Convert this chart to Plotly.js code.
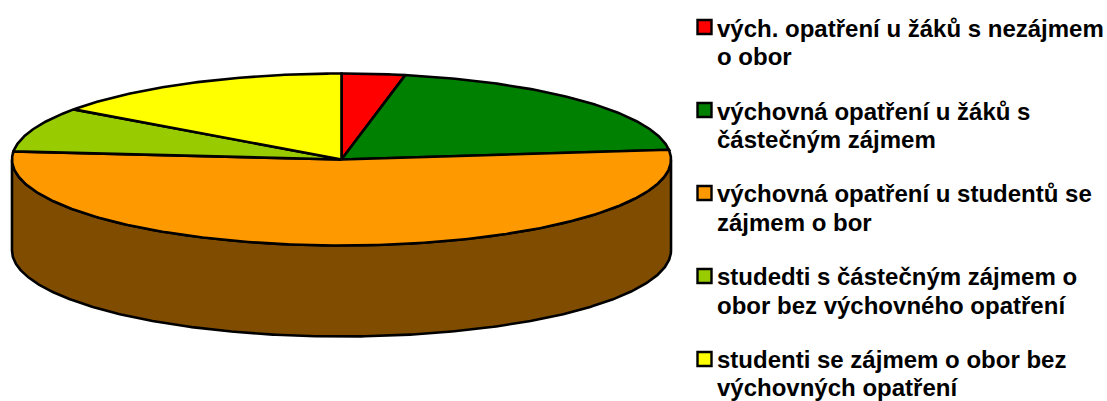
<!DOCTYPE html>
<html>
<head>
<meta charset="utf-8">
<script src="https://cdn.plot.ly/plotly-3.0.1.min.js"></script>
<style>html,body{margin:0;padding:0;background:#fff}#chart{width:1107px;height:401px}</style>
</head>
<body>
<div id="chart"></div>
<script>
// Data (share of the pie, %)
var categories = [
  "vých. opatření u žáků s nezájmem<br>o obor",
  "výchovná opatření u žáků s<br>částečným zájmem",
  "výchovná opatření u studentů se<br>zájmem o bor",
  "studedti s částečným zájmem o<br>obor bez výchovného opatření",
  "studenti se zájmem o obor bez<br>výchovných opatření"
];
var values = [3.1, 20.1, 53.3, 8.4, 15.1];
var topColors = ["#FF0000", "#008000", "#FF9900", "#99CC00", "#FFFF00"];
var sideColors = ["#800000", "#004000", "#804D00", "#4D6600", "#808000"];

// Drawing set-up: the axes are in page pixels, the tilted pie is a projected circle
var cx = 341.5, cy = 159.5, rx = 329.5, ry = 86, depth = 91;
var swatchX = 704.5, firstSwatchY = 27, itemStep = 83, textX = 716.5, firstTextY = 28.2, textStep = 82.8, lineStep = 28.4;
var edgeWidth = 2.6;

function px(t) { return cx + rx * Math.sin(t * Math.PI / 180); }
function py(t, d) { return cy - ry * Math.cos(t * Math.PI / 180) + (d || 0); }
function arc(a, b) {
  var out = [], n = Math.max(2, Math.ceil(Math.abs(b - a) * 2));
  for (var i = 0; i <= n; i++) out.push(a + (b - a) * i / n);
  return out;
}

var total = values.reduce(function (s, v) { return s + v; }, 0);
var sideTraces = [], topTraces = [], annotations = [], acc = 0;

values.forEach(function (v, i) {
  var a = acc / total * 360, b = (acc + v) / total * 360;
  acc += v;
  // visible wall: the front half of the rim, 90..270 degrees
  var s = Math.max(a, 90), e = Math.min(b, 270);
  if (e > s) {
    var ts = arc(s, e), rs = ts.slice().reverse();
    sideTraces.push({
      type: "scatter", mode: "lines", fill: "toself", fillcolor: sideColors[i],
      x: ts.map(px).concat(rs.map(px)).concat([px(s)]),
      y: ts.map(function (t) { return py(t); }).concat(rs.map(function (t) { return py(t, depth); })).concat([py(s)]),
      line: { color: "#000", width: edgeWidth }, showlegend: false, hoverinfo: "skip"
    });
  }
  var tt = arc(a, b);
  topTraces.push({
    type: "scatter", mode: "lines", fill: "toself", fillcolor: topColors[i],
    name: categories[i].replace("<br>", " "),
    x: [cx].concat(tt.map(px)).concat([cx]),
    y: [cy].concat(tt.map(function (t) { return py(t); })).concat([cy]),
    line: { color: "#000", width: edgeWidth }, showlegend: false, hoverinfo: "name"
  });
});

var swatches = {
  type: "scatter", mode: "markers",
  x: categories.map(function () { return swatchX; }),
  y: categories.map(function (c, i) { return firstSwatchY + i * itemStep; }),
  marker: { symbol: "square", size: 14, color: topColors, line: { color: "#000", width: 2.4 } },
  showlegend: false, hoverinfo: "skip"
};

categories.forEach(function (c, i) {
  c.split("<br>").forEach(function (line, j) {
    annotations.push({
      x: textX, y: firstTextY + i * textStep + j * lineStep,
      xref: "x", yref: "y", xanchor: "left", yanchor: "middle",
      text: line, showarrow: false, borderpad: 0, borderwidth: 0,
      font: { family: "Liberation Sans, Arial, sans-serif", size: 24, color: "#000", weight: 700 }
    });
  });
});

Plotly.newPlot("chart", sideTraces.concat(topTraces).concat([swatches]), {
  width: 1107, height: 401,
  margin: { l: 0, r: 0, t: 0, b: 0 },
  paper_bgcolor: "#fff", plot_bgcolor: "#fff",
  showlegend: false,
  xaxis: { range: [0, 1107], visible: false, fixedrange: true },
  yaxis: { range: [401, 0], visible: false, fixedrange: true },
  annotations: annotations
}, { displayModeBar: false, staticPlot: true });
</script>
</body>
</html>
